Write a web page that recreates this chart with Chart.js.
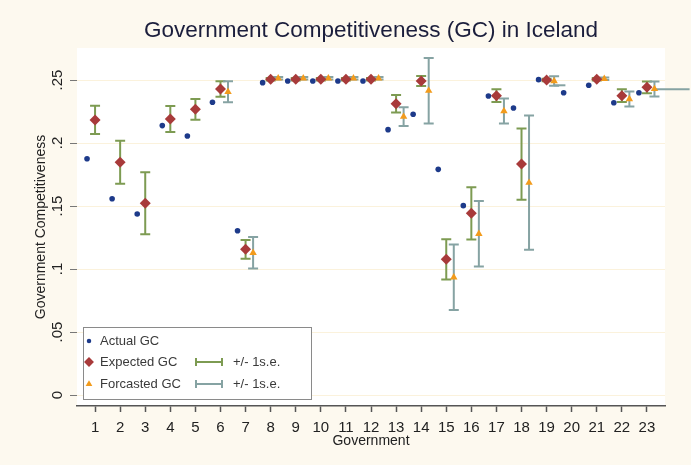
<!DOCTYPE html>
<html>
<head>
<meta charset="utf-8">
<script src="https://cdn.jsdelivr.net/npm/chart.js@4.4.0/dist/chart.umd.min.js"></script>
<style>
  html, body { margin: 0; padding: 0; background: #fdf9ef; }
  #grafico { display: block; }
</style>
</head>
<body>
<canvas id="grafico" width="691" height="465"></canvas>
<script>
// Datos
const gobiernos = [1, 2, 3, 4, 5, 6, 7, 8, 9, 10, 11, 12, 13, 14, 15, 16, 17, 18, 19, 20, 21, 22, 23];
const actual = [0.1875, 0.1558, 0.1437, 0.2138, 0.2056, 0.2323, 0.1304, 0.2479, 0.2492, 0.2492, 0.2492, 0.2492,
  0.2106, 0.2228, 0.1791, 0.1503, 0.2373, 0.2278, 0.2503, 0.2399, 0.2458, 0.2320, 0.2399];
const esperado = [0.2183, 0.1847, 0.1521, 0.2190, 0.2267, 0.2429, 0.1156, 0.2506, 0.2506, 0.2506, 0.2506, 0.2506,
  0.2312, 0.2492, 0.1077, 0.1442, 0.2376, 0.1833, 0.2500, null, 0.2506, 0.2376, 0.2442];
const esperadoSE = [0.0112, 0.0170, 0.0246, 0.0103, 0.0082, 0.0062, 0.0075, 0.0010, 0.0010, 0.0010, 0.0010, 0.0010,
  0.0069, 0.0040, 0.0160, 0.0207, 0.0050, 0.0283, 0.0010, null, 0.0010, 0.0050, 0.0047];
const pronostico = [null, null, null, null, null, 0.2407, 0.1129, 0.2514, 0.2514, 0.2514, 0.2514, 0.2514,
  0.2209, 0.2415, 0.0934, 0.1280, 0.2254, 0.1685, 0.2492, null, 0.2510, 0.2349, 0.2429];
const pronosticoSE = [null, null, null, null, null, 0.0083, 0.0125, 0.0010, 0.0010, 0.0010, 0.0010, 0.0010,
  0.0074, 0.0260, 0.0260, 0.0260, 0.0100, 0.0533, 0.0038, null, 0.0010, 0.0060, 0.0060];
// trazos horizontales sueltos que aparecen en el original
const trazoDesde = [19.3, 23.3];
const trazoHasta = [19.75, 24.7];
const trazoY = [0.2458, 0.2426];

const yTicks = [0, 0.05, 0.1, 0.15, 0.2, 0.25];
const yEtiquetas = ["0", ".05", ".1", ".15", ".2", ".25"];

const FUENTE = "'Liberation Sans', Arial, sans-serif";
const verde = "#7d9b52";
const gris = "#86a3a3";

const puntos = (vals, d) => gobiernos.map((g, i) => ({x: g + d, y: vals[i]})).filter(p => p.y != null);

// Fondo crema y área blanca
const fondo = {
  id: "fondo",
  beforeDraw(chart) {
    const c = chart.ctx, a = chart.chartArea;
    c.save();
    c.fillStyle = "#fdf9ef";
    c.fillRect(0, 0, chart.width, chart.height);
    c.fillStyle = "#ffffff";
    c.fillRect(a.left, a.top, a.right - a.left, a.bottom - a.top);
    c.restore();
  }
};

// Barras de error (+/- 1 s.e.)
function barra(c, x, y0, y1, color) {
  c.strokeStyle = color;
  c.lineWidth = 2;
  c.beginPath();
  c.moveTo(x, y0); c.lineTo(x, y1);
  c.moveTo(x - 5, y0); c.lineTo(x + 5, y0);
  c.moveTo(x - 5, y1); c.lineTo(x + 5, y1);
  c.stroke();
}
const barras = {
  id: "barras",
  beforeDatasetsDraw(chart) {
    const c = chart.ctx, sx = chart.scales.x, sy = chart.scales.y;
    c.save();
    gobiernos.forEach((g, i) => {
      if (esperado[i] != null) {
        barra(c, sx.getPixelForValue(g), sy.getPixelForValue(esperado[i] + esperadoSE[i]),
          sy.getPixelForValue(esperado[i] - esperadoSE[i]), verde);
      }
      if (pronostico[i] != null) {
        barra(c, sx.getPixelForValue(g + 0.3), sy.getPixelForValue(pronostico[i] + pronosticoSE[i]),
          sy.getPixelForValue(pronostico[i] - pronosticoSE[i]), gris);
      }
    });
    c.strokeStyle = gris;
    c.lineWidth = 2;
    trazoY.forEach((v, i) => {
      c.beginPath();
      c.moveTo(sx.getPixelForValue(trazoDesde[i]), sy.getPixelForValue(v));
      c.lineTo(sx.getPixelForValue(trazoHasta[i]), sy.getPixelForValue(v));
      c.stroke();
    });
    c.restore();
  }
};

// Leyenda dentro del área
const leyenda = {
  id: "leyenda",
  afterDatasetsDraw(chart) {
    const c = chart.ctx;
    const x0 = 83, y0 = 327, w = 228, h = 72;
    c.save();
    c.fillStyle = "#ffffff";
    c.fillRect(x0, y0, w, h);
    c.strokeStyle = "#8a8a8a";
    c.lineWidth = 1;
    c.strokeRect(x0 + 0.5, y0 + 0.5, w, h);
    const filas = [341, 362, 384];
    chart.data.datasets.forEach((ds, i) => {
      c.fillStyle = ds.backgroundColor;
      Chart.helpers.drawPoint(c, {
        pointStyle: ds.pointStyle, radius: ds.pointRadius * (i === 0 ? 0.8 : 0.9), rotation: 0, borderWidth: 0
      }, 89, filas[i]);
    });
    c.font = "13px " + FUENTE;
    c.fillStyle = "#3a3a3a";
    c.textBaseline = "middle";
    chart.data.datasets.forEach((ds, i) => c.fillText(ds.label, 100, filas[i]));
    [[filas[1], verde], [filas[2], gris]].forEach(([y, col]) => {
      c.strokeStyle = col;
      c.lineWidth = 2;
      c.beginPath();
      c.moveTo(196, y); c.lineTo(222, y);
      c.moveTo(196, y - 4); c.lineTo(196, y + 4);
      c.moveTo(222, y - 4); c.lineTo(222, y + 4);
      c.stroke();
      c.fillStyle = "#3a3a3a";
      c.fillText("+/- 1s.e.", 233, y);
    });
    c.restore();
  }
};

// Título centrado sobre el área del gráfico
const titulo = {
  id: "titulo",
  afterDraw(chart) {
    const c = chart.ctx, a = chart.chartArea;
    c.save();
    c.font = "22.5px " + FUENTE;
    c.fillStyle = "#1b1e3c";
    c.textAlign = "center";
    c.textBaseline = "middle";
    c.fillText("Government Competitiveness (GC) in Iceland", (a.left + a.right) / 2, 31);
    c.restore();
  }
};

const ctx = document.getElementById("grafico").getContext("2d");
new Chart(ctx, {
  type: "scatter",
  data: {
    datasets: [
      {
        label: "Actual GC",
        data: puntos(actual, -0.32),
        pointStyle: "circle",
        pointRadius: 2.8,
        backgroundColor: "#1d3a8a",
        borderWidth: 0
      },
      {
        label: "Expected GC",
        data: puntos(esperado, 0),
        pointStyle: "rectRot",
        pointRadius: 5.5,
        backgroundColor: "#a83a3a",
        borderWidth: 0
      },
      {
        label: "Forcasted GC",
        data: puntos(pronostico, 0.3),
        pointStyle: "triangle",
        pointRadius: 4.3,
        backgroundColor: "#f29b1c",
        borderWidth: 0
      }
    ]
  },
  options: {
    responsive: false,
    animation: false,
    devicePixelRatio: 1,
    layout: { padding: { top: 48, right: 26, left: 0, bottom: 0 } },
    plugins: {
      legend: { display: false },
      title: { display: false },
      tooltip: { enabled: false }
    },
    scales: {
      x: {
        type: "linear",
        min: 0.28,
        max: 23.72,
        afterBuildTicks: s => { s.ticks = gobiernos.map(v => ({value: v})); },
        afterFit: s => { s.height = 59; },
        ticks: { color: "#222222", font: { family: FUENTE, size: 15 }, padding: 7, maxRotation: 0 },
        grid: { drawOnChartArea: false, tickLength: 6, tickColor: "#555555", tickWidth: 1.5 },
        border: { color: "#555555", width: 1.5 },
        title: { display: true, text: "Government", color: "#222222", font: { family: FUENTE, size: 14 }, padding: { top: 0, bottom: 15 } }
      },
      y: {
        min: -0.0087,
        max: 0.2754,
        afterBuildTicks: s => { s.ticks = yTicks.map(v => ({value: v})); },
        afterFit: s => { s.width = 77; },
        ticks: {
          color: "#222222",
          font: { family: FUENTE, size: 15 },
          minRotation: 90,
          maxRotation: 90,
          crossAlign: "center",
          padding: 2,
          callback: (v, i) => yEtiquetas[i]
        },
        grid: { color: "#fbf2dc", tickColor: "#777777", tickLength: 7, lineWidth: 1 },
        border: { display: false },
        title: { display: true, text: "Government Competitiveness", color: "#222222", font: { family: FUENTE, size: 14 }, padding: { top: 33, bottom: 0 } }
      }
    }
  },
  plugins: [fondo, barras, leyenda, titulo]
});
</script>
</body>
</html>
